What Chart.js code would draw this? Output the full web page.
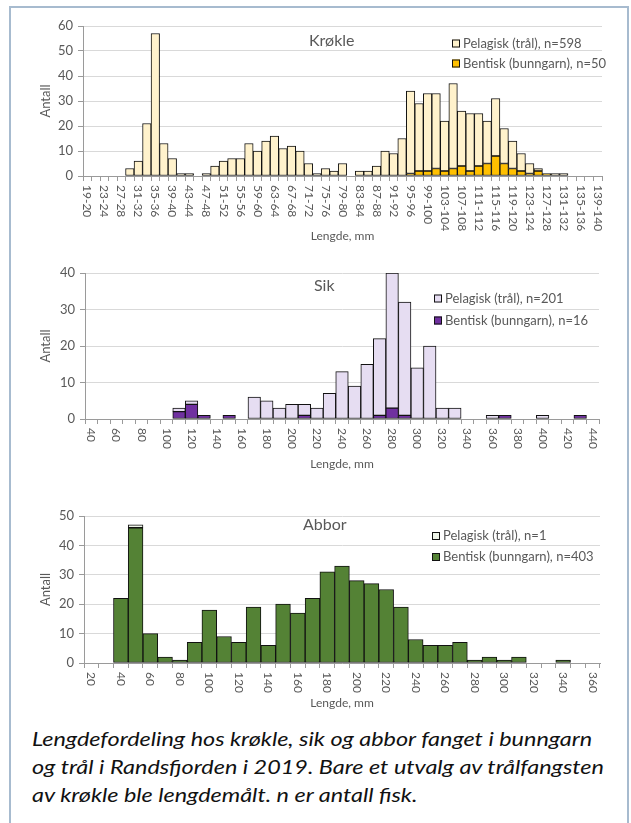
<!DOCTYPE html>
<html>
<head>
<meta charset="utf-8">
<script src="https://cdn.jsdelivr.net/npm/chart.js@4/dist/chart.umd.min.js"></script>
<style>
  body { margin: 0; background: #fff; width: 631px; height: 823px; overflow: hidden; position: relative; }
  #frame { position: absolute; left: 9px; top: 6px; width: 616px; height: 840px; border: 2px solid #a7bbcf; }
  canvas { position: absolute; left: 0; }
  #caption { position: absolute; left: 32px; top: 724px; font-family: Lato, sans-serif; font-style: italic;
             font-size: 20px; line-height: 28px; color: #111; white-space: nowrap;
             transform: scaleX(1.17); transform-origin: 0 0; }
</style>
</head>
<body>
<div id="frame"></div>
<canvas id="krokle" width="631" height="250" style="top:0px"></canvas>
<canvas id="sik" width="631" height="240" style="top:250px"></canvas>
<canvas id="abbor" width="631" height="225" style="top:490px"></canvas>
<div id="caption">Lengdefordeling hos krøkle, sik og abbor fanget i bunngarn<br>og trål i Randsfjorden i 2019. Bare et utvalg av trålfangsten<br>av krøkle ble lengdemålt. n er antall fisk.</div>
<script>
// Krøkle, 2 mm klasser
const krokleLabels = ["19-20","21-22","23-24","25-26","27-28","29-30","31-32","33-34","35-36","37-38",
  "39-40","41-42","43-44","45-46","47-48","49-50","51-52","53-54","55-56","57-58",
  "59-60","61-62","63-64","65-66","67-68","69-70","71-72","73-74","75-76","77-78",
  "79-80","81-82","83-84","85-86","87-88","89-90","91-92","93-94","95-96","97-98",
  "99-100","101-102","103-104","105-106","107-108","109-110","111-112","113-114","115-116","117-118",
  "119-120","121-122","123-124","125-126","127-128","129-130","131-132","133-134","135-136","137-138",
  "139-140"];
const kroklePelagisk = [0,0,0,0,0,3,6,21,57,13,
  7,1,1,0,1,4,6,7,7,13,
  10,14,16,11,12,10,5,1,3,2,
  5,0,2,2,4,10,9,15,33,27,
  31,30,20,34,22,23,21,17,23,14,
  11,7,4,1,0,1,1,0,0,0,
  0];
const krokleBentisk = [0,0,0,0,0,0,0,0,0,0,
  0,0,0,0,0,0,0,0,0,0,
  0,0,0,0,0,0,0,0,0,0,
  0,0,0,0,0,0,0,0,1,2,
  2,3,2,3,4,2,4,5,8,5,
  3,2,1,2,1,0,0,0,0,0,
  0];

// Sik, 10 mm klasser
const sikLabels = ["40","50","60","70","80","90","100","110","120","130",
  "140","150","160","170","180","190","200","210","220","230",
  "240","250","260","270","280","290","300","310","320","330",
  "340","350","360","370","380","390","400","410","420","430","440"];
const sikPelagisk = [0,0,0,0,0,0,0,1,1,0,
  0,0,0,6,5,3,4,3,3,7,
  13,9,15,21,37,31,14,20,3,3,
  0,0,1,0,0,0,1,0,0,0,0];
const sikBentisk = [0,0,0,0,0,0,0,2,4,1,
  0,1,0,0,0,0,0,1,0,0,
  0,0,0,1,3,1,0,0,0,0,
  0,0,0,1,0,0,0,0,0,1,0];

// Abbor, 10 mm klasser
const abborLabels = ["20","30","40","50","60","70","80","90","100","110",
  "120","130","140","150","160","170","180","190","200","210",
  "220","230","240","250","260","270","280","290","300","310",
  "320","330","340","350","360"];
const abborPelagisk = [0,0,0,1,0,0,0,0,0,0,
  0,0,0,0,0,0,0,0,0,0,
  0,0,0,0,0,0,0,0,0,0,
  0,0,0,0,0];
const abborBentisk = [0,0,22,46,10,2,1,7,18,9,
  7,19,6,20,17,22,31,33,28,27,
  25,19,8,6,6,7,1,2,1,2,
  0,0,1,0,0];

const TEXT = "#595959";
const AXIS = "#9a9a9a";
const FONT = "Lato, sans-serif";

// draws x labels turned clockwise, the in-plot title and the legend
const overlay = {
  id: "overlay",
  afterDraw(chart, args, o) {
    const { ctx, chartArea } = chart;
    const xs = chart.scales.x;
    ctx.save();
    ctx.fillStyle = TEXT;
    ctx.font = "12px " + FONT;
    ctx.textAlign = "left";
    ctx.textBaseline = "middle";
    xs.ticks.forEach((t, i) => {
      if (!t.label) return;
      ctx.save();
      ctx.translate(xs.getPixelForTick(i), chartArea.bottom + 9);
      ctx.rotate(Math.PI / 2);
      ctx.fillText(t.label, 0, 0);
      ctx.restore();
    });

    ctx.font = "16px " + FONT;
    ctx.fillText(o.title, chartArea.left + o.titleX, chartArea.top + o.titleY);

    ctx.font = "13px " + FONT;
    const ds = chart.data.datasets.slice().reverse();
    ds.forEach((d, i) => {
      const x = chartArea.right - o.legX;
      const y = chartArea.top + o.legY + i * o.legGap;
      ctx.fillStyle = d.backgroundColor;
      ctx.fillRect(x, y, 8, 8);
      ctx.strokeStyle = "#111";
      ctx.lineWidth = 1;
      ctx.strokeRect(x + 0.5, y + 0.5, 7, 7);
      ctx.fillStyle = TEXT;
      ctx.fillText(d.label, x + 11, y + 4);
    });
    ctx.restore();
  }
};

function makeChart(id, g) {
  const ctx = document.getElementById(id).getContext("2d");
  const canvasH = ctx.canvas.height;
  const scaleBottom = g.lengdeY + 7.2;

  new Chart(ctx, {
    type: "bar",
    data: {
      labels: g.labels,
      datasets: [
        {
          label: g.benLabel,
          data: g.bentisk,
          backgroundColor: g.benColor,
          borderColor: "#111",
          borderWidth: 1,
          borderSkipped: false,
          categoryPercentage: 1,
          barPercentage: 1
        },
        {
          label: g.pelLabel,
          data: g.pelagisk,
          backgroundColor: g.pelColor,
          borderColor: "#111",
          borderWidth: 1,
          borderSkipped: false,
          categoryPercentage: 1,
          barPercentage: 1
        }
      ]
    },
    options: {
      responsive: false,
      animation: false,
      layout: {
        padding: { left: 38, right: 631 - g.right, top: g.top, bottom: canvasH - scaleBottom }
      },
      plugins: {
        legend: { display: false },
        tooltip: { enabled: false },
        overlay: g.overlay
      },
      scales: {
        x: {
          stacked: true,
          ticks: {
            autoSkip: false,
            maxRotation: 0,
            color: "rgba(0,0,0,0)",
            font: { family: FONT, size: 12 },
            callback: function (v, i) { return i % 2 === 0 ? this.getLabelForValue(v) : ""; }
          },
          grid: { drawOnChartArea: false, color: AXIS, tickLength: 5, offset: true },
          border: { color: AXIS },
          title: { display: true, text: "Lengde, mm", color: TEXT, font: { family: FONT, size: 12 }, padding: 0 },
          afterFit: s => { s.height = scaleBottom - g.bottom; }
        },
        y: {
          stacked: true,
          min: 0,
          max: g.yMax,
          ticks: { stepSize: 10, color: TEXT, font: { family: FONT, size: 13 }, padding: 5 },
          grid: { color: "#d9d9d9", tickColor: AXIS, tickLength: 5 },
          border: { color: AXIS },
          title: { display: true, text: "Antall", color: TEXT, font: { family: FONT, size: 13 }, padding: 0 },
          afterFit: s => { s.width = g.left - 38; }
        }
      }
    },
    plugins: [overlay]
  });
}

makeChart("krokle", {
  labels: krokleLabels, pelagisk: kroklePelagisk, bentisk: krokleBentisk,
  pelLabel: "Pelagisk (trål), n=598", benLabel: "Bentisk (bunngarn), n=50",
  pelColor: "#fff2cc", benColor: "#ffc000",
  yMax: 60, left: 83, right: 602, top: 26, bottom: 176, lengdeY: 236,
  overlay: { title: "Krøkle", titleX: 226, titleY: 15, legX: 150, legY: 13.5, legGap: 20 }
});

makeChart("sik", {
  labels: sikLabels, pelagisk: sikPelagisk, bentisk: sikBentisk,
  pelLabel: "Pelagisk (trål), n=201", benLabel: "Bentisk (bunngarn), n=16",
  pelColor: "#e6ddf2", benColor: "#7030a0",
  yMax: 40, left: 85, right: 599, top: 23, bottom: 169, lengdeY: 214,
  overlay: { title: "Sik", titleX: 229, titleY: 12.5, legX: 165, legY: 21.5, legGap: 22 }
});

makeChart("abbor", {
  labels: abborLabels, pelagisk: abborPelagisk, bentisk: abborBentisk,
  pelLabel: "Pelagisk (trål), n=1", benLabel: "Bentisk (bunngarn), n=403",
  pelColor: "#eef4e8", benColor: "#548235",
  yMax: 50, left: 84, right: 600, top: 26, bottom: 173, lengdeY: 213,
  overlay: { title: "Abbor", titleX: 219, titleY: 9, legX: 168, legY: 16, legGap: 21 }
});
</script>
</body>
</html>
